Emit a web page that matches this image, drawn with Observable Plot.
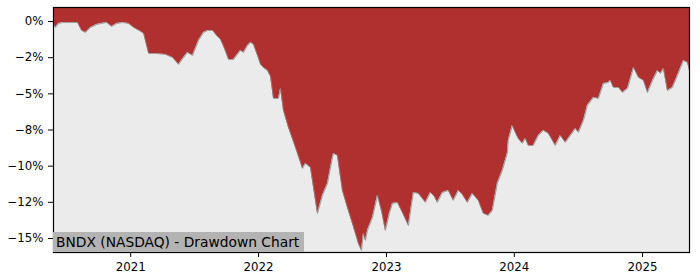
<!DOCTYPE html>
<html><head><meta charset="utf-8">
<script src="https://cdn.jsdelivr.net/npm/d3@7"></script>
<script src="https://cdn.jsdelivr.net/npm/@observablehq/plot@0.6"></script>
<style>
body{margin:0;background:#fff;}
#wrap{position:relative;width:700px;height:280px;}
#label{position:absolute;left:53px;top:232px;width:251px;height:20px;background:#b3b3b3;font-family:"DejaVu Sans";font-size:13.8px;color:#000;line-height:20px;padding-left:3px;box-sizing:border-box;white-space:nowrap;}
</style></head><body>
<div id="wrap"><div id="label"></div></div>
<script>
const chartTitle = "BNDX (NASDAQ) - Drawdown Chart";
// decimal-year dates
const years = [2020.398,2020.414,2020.438,2020.469,2020.531,2020.586,2020.617,2020.648,2020.688,2020.734,
2020.766,2020.813,2020.852,2020.891,2020.938,2020.984,2021.023,2021.078,2021.102,2021.125,
2021.141,2021.195,2021.273,2021.328,2021.375,2021.414,2021.445,2021.484,2021.531,2021.570,
2021.602,2021.641,2021.672,2021.703,2021.734,2021.766,2021.805,2021.828,2021.859,2021.883,
2021.914,2021.938,2021.961,2021.992,2022.016,2022.047,2022.070,2022.094,2022.117,2022.156,
2022.172,2022.195,2022.234,2022.289,2022.344,2022.367,2022.406,2022.430,2022.461,2022.500,
2022.539,2022.578,2022.586,2022.617,2022.656,2022.695,2022.734,2022.758,2022.781,2022.805,
2022.820,2022.836,2022.852,2022.891,2022.930,2022.961,2022.992,2023.023,2023.047,2023.086,
2023.125,2023.172,2023.195,2023.211,2023.250,2023.281,2023.305,2023.344,2023.375,2023.398,
2023.438,2023.484,2023.523,2023.563,2023.594,2023.633,2023.672,2023.719,2023.758,2023.797,
2023.828,2023.867,2023.906,2023.945,2023.953,2023.984,2024.008,2024.031,2024.063,2024.086,
2024.109,2024.148,2024.188,2024.227,2024.266,2024.320,2024.359,2024.398,2024.438,2024.477,
2024.500,2024.539,2024.570,2024.617,2024.656,2024.695,2024.734,2024.750,2024.773,2024.813,
2024.844,2024.883,2024.930,2024.969,2025.008,2025.039,2025.078,2025.117,2025.141,2025.164,
2025.195,2025.234,2025.273,2025.320,2025.352,2025.367];
// drawdown in percent
const drawdown = [-0.14,-0.41,-0.14,-0.07,-0.07,-0.07,-0.62,-0.76,-0.41,-0.21,
-0.14,-0.07,-0.35,-0.14,-0.07,-0.14,-0.41,-0.69,-0.83,-1.66,
-2.21,-2.21,-2.28,-2.49,-2.97,-2.49,-2.14,-2.35,-1.31,-0.76,
-0.62,-0.62,-0.97,-1.24,-1.87,-2.63,-2.63,-2.35,-2.00,-2.14,
-1.66,-1.45,-1.59,-2.35,-2.97,-3.25,-3.39,-3.80,-5.32,-5.32,
-4.63,-6.15,-7.33,-8.71,-10.16,-9.81,-10.09,-11.47,-13.27,-12.02,
-11.20,-9.40,-9.12,-9.26,-11.68,-12.85,-13.96,-14.65,-15.34,-15.83,
-14.65,-15.13,-14.44,-13.55,-12.02,-13.06,-14.44,-13.27,-12.58,-12.51,
-13.20,-14.10,-12.72,-11.82,-11.89,-12.23,-12.51,-11.82,-12.09,-12.51,
-11.82,-11.68,-12.37,-11.68,-11.96,-12.51,-11.89,-12.37,-13.27,-13.41,
-13.06,-11.20,-10.30,-9.12,-8.22,-7.19,-7.67,-8.09,-8.43,-8.09,
-8.57,-8.57,-7.88,-7.53,-7.74,-8.57,-7.88,-8.36,-7.88,-7.39,
-7.67,-6.84,-5.81,-5.25,-5.32,-4.28,-4.22,-4.08,-4.56,-4.56,
-4.91,-4.63,-3.18,-3.87,-4.08,-4.91,-4.08,-3.39,-3.59,-3.25,
-4.77,-4.56,-3.73,-2.70,-2.83,-3.39];
const yTickValues = [0, -2.5, -5, -7.5, -10, -12.5, -15];
const yTickLabels = ["0%", "\u22122%", "\u22125%", "\u22128%", "\u221210%", "\u221212%", "\u221215%"];
const xTickYears = [2021, 2022, 2023, 2024, 2025];

function toDate(t) {
  const y = Math.floor(t);
  const a = Date.UTC(y, 0, 1), b = Date.UTC(y + 1, 0, 1);
  return new Date(a + (t - y) * (b - a));
}
const data = years.map((t, i) => ({date: toDate(t), dd: drawdown[i]}));
const yTop = 0.97, yBottom = -15.97;

const chart = Plot.plot({
  width: 700, height: 280,
  marginLeft: 53, marginRight: 11, marginTop: 7, marginBottom: 28,
  style: {background: "transparent", fontFamily: "DejaVu Sans", fontSize: "11.8px", color: "#000"},
  x: {type: "utc", domain: [data[0].date, data[data.length - 1].date],
      ticks: xTickYears.map(y => new Date(Date.UTC(y, 0, 1))),
      tickFormat: d => String(d.getUTCFullYear()), tickSize: 5, tickPadding: 5, label: null},
  y: {domain: [yBottom, yTop], ticks: yTickValues,
      tickFormat: d => yTickLabels[yTickValues.indexOf(d)], tickSize: 5, tickPadding: 5, label: null},
  marks: [
    Plot.frame({fill: "#ebebeb", stroke: null}),
    Plot.areaY(data, {x: "date", y1: yTop, y2: "dd", fill: "#b03030"}),
    Plot.lineY(data, {x: "date", y: "dd", stroke: "#8a8a8a", strokeWidth: 1, strokeOpacity: 0.8}),
    Plot.frame({stroke: "#000", strokeWidth: 1.2})
  ]
});
const wrap = document.getElementById("wrap");
wrap.insertBefore(chart, wrap.firstChild);
document.getElementById("label").textContent = chartTitle;
</script>
</body></html>
